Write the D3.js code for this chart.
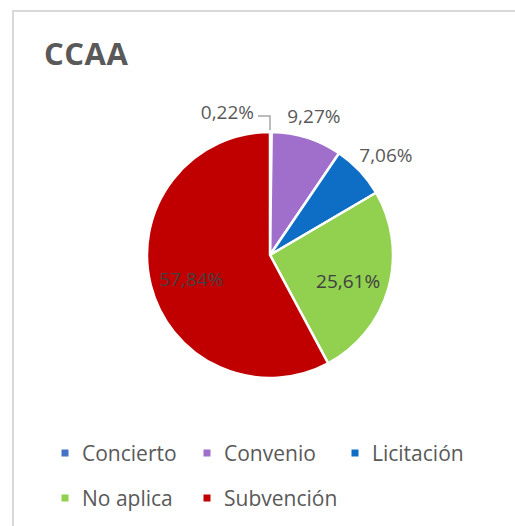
<!DOCTYPE html>
<html>
<head>
<meta charset="utf-8">
<script src="https://cdn.jsdelivr.net/npm/d3@7"></script>
<style>
  html, body { margin: 0; padding: 0; background: #fff; }
  svg { display: block; font-family: "Open Sans", "Noto Sans", sans-serif; }
</style>
</head>
<body>
<svg id="chart" width="515" height="526"></svg>
<script>
// data
const categories = ["Concierto", "Convenio", "Licitación", "No aplica", "Subvención"];
const values = [0.22, 9.27, 7.06, 25.61, 57.84];
const colors = ["#4472C4", "#A06FCB", "#0E6EC6", "#92D050", "#C00000"];
const title = "CCAA";

const svg = d3.select("#chart");
const W = 515, H = 526;

// frame
svg.append("rect")
  .attr("x", 13).attr("y", 11)
  .attr("width", W).attr("height", H)
  .attr("fill", "#fff")
  .attr("stroke", "#d9d9d9")
  .attr("stroke-width", 2);

svg.append("text")
  .attr("x", 44).attr("y", 65)
  .attr("font-size", 31).attr("font-weight", "bold")
  .attr("letter-spacing", 0.5)
  .attr("fill", "#595959")
  .text(title);

const cx = 270, cy = 255, r = 123;
const fmt = v => d3.format(".2f")(v).replace(".", ",") + "%";

const pie = d3.pie().sort(null).value(d => d)(values);
const arc = d3.arc().innerRadius(0).outerRadius(r);

const g = svg.append("g").attr("transform", `translate(${cx},${cy})`);

g.selectAll("path.slice")
  .data(pie)
  .join("path")
  .attr("class", "slice")
  .attr("d", arc)
  .attr("fill", (d, i) => colors[i])
  .attr("stroke", "#fff")
  .attr("stroke-width", 2.5)
  .attr("stroke-linejoin", "round");

const mid = d => (d.startAngle + d.endAngle) / 2;
const labelSize = 19;

// labels
pie.forEach((d, i) => {
  const a = mid(d);
  const v = values[i];
  let x, y, fill = "#595959";
  if (v < 1) {
    // tiny slice: label on the left with a leader line
    const topY = -Math.cos(a) * r;
    g.append("polyline")
      .attr("points", [[-12, topY - 16], [0, topY - 16], [0, topY - 2]].map(p => p.join(",")).join(" "))
      .attr("fill", "none").attr("stroke", "#a6a6a6").attr("stroke-width", 1.5);
    g.append("text")
      .attr("x", -16).attr("y", topY - 20)
      .attr("text-anchor", "end")
      .attr("dominant-baseline", "central")
      .attr("font-size", labelSize).attr("fill", fill)
      .text(fmt(v));
    return;
  } else if (v < 12) {
    // outside end
    const R = r + 14;
    x = Math.sin(a) * R + Math.sin(a) * Math.sin(a) * 30;
    y = -Math.cos(a) * R - Math.cos(a) * 9;
  } else {
    const R = r * 0.66;
    x = Math.sin(a) * R; y = -Math.cos(a) * R + 4;
    fill = "#404040";
  }
  g.append("text")
    .attr("x", x).attr("y", y)
    .attr("text-anchor", "middle")
    .attr("dominant-baseline", "central")
    .attr("font-size", labelSize).attr("fill", fill)
    .text(fmt(v));
});

// legend
const legendCols = [65, 207, 355];
const legendRows = [453, 498];
const legend = svg.append("g");
categories.forEach((c, i) => {
  const col = i < 3 ? i : i - 3;
  const row = i < 3 ? 0 : 1;
  const lx = legendCols[col], ly = legendRows[row];
  legend.append("rect")
    .attr("x", lx - 3.5).attr("y", ly - 3.5)
    .attr("width", 7).attr("height", 7)
    .attr("fill", colors[i]);
  legend.append("text")
    .attr("x", lx + 17).attr("y", ly)
    .attr("dominant-baseline", "central")
    .attr("font-size", 21).attr("fill", "#595959")
    .text(c);
});
</script>
</body>
</html>
